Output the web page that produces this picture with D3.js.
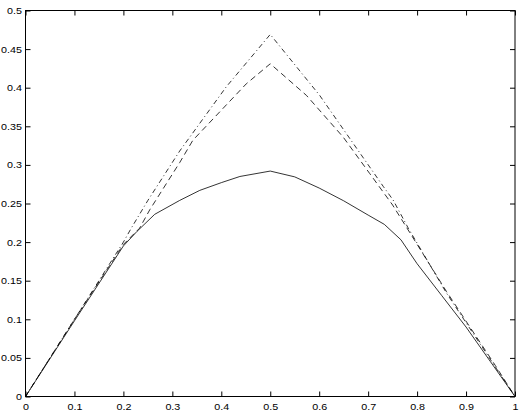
<!DOCTYPE html>
<html>
<head>
<meta charset="utf-8">
<script src="https://cdn.jsdelivr.net/npm/d3@7"></script>
<style>
  body { margin: 0; background: #fff; }
  svg { display: block; }
  .tick text { font-family: "Liberation Sans", Arial, sans-serif; font-size: 9.5px; fill: #000; }
  .tick line { stroke: #000; }
</style>
</head>
<body>
<div id="chart"></div>
<script>
// values
var xSolid = [0, 0.1, 0.2, 0.228, 0.264, 0.315, 0.356, 0.4, 0.438, 0.5, 0.55, 0.6, 0.65, 0.7, 0.733, 0.767, 0.8, 0.85, 0.9, 0.95, 1];
var ySolid = [0, 0.098, 0.195, 0.214, 0.236, 0.254, 0.267, 0.277, 0.285, 0.292, 0.2845, 0.27, 0.2535, 0.235, 0.223, 0.203, 0.172, 0.131, 0.09, 0.045, 0];

var xDashed = [0, 0.1, 0.2, 0.233, 0.254, 0.315, 0.342, 0.451, 0.5, 0.574, 0.649, 0.703, 0.75, 0.86, 0.96, 1];
var yDashed = [0, 0.1, 0.197, 0.218, 0.242, 0.303, 0.332, 0.405, 0.431, 0.39, 0.336, 0.289, 0.248, 0.136, 0.04, 0];

var xDashDot = [0, 0.1, 0.2, 0.216, 0.25, 0.315, 0.41, 0.5, 0.601, 0.731, 0.751, 0.782, 0.86, 0.959, 1];
var yDashDot = [0, 0.1, 0.2, 0.218, 0.254, 0.318, 0.401, 0.469, 0.39, 0.272, 0.2545, 0.218, 0.134, 0.039, 0];

var xTicks = [0, 0.1, 0.2, 0.3, 0.4, 0.5, 0.6, 0.7, 0.8, 0.9, 1];
var yTicks = [0, 0.05, 0.1, 0.15, 0.2, 0.25, 0.3, 0.35, 0.4, 0.45, 0.5];

var width = 523;
var height = 413;
var plot = { left: 25.5, right: 515, top: 10.5, bottom: 396.5 };

var svg = d3.select("#chart")
  .append("svg")
  .attr("width", width)
  .attr("height", height);

var xScale = d3.scaleLinear().domain([0, 1]).range([plot.left, plot.right]);
var yScale = d3.scaleLinear().domain([0, 0.5]).range([plot.bottom, plot.top]);

var fmt = d3.format("~g");

// axes, ticks pointing inward
svg.append("g")
  .classed("xax", true)
  .attr("transform", `translate(0, ${plot.bottom})`)
  .call(d3.axisBottom(xScale).tickValues(xTicks).tickFormat(fmt).tickSizeInner(-5).tickSizeOuter(0).tickPadding(6.5));

svg.append("g")
  .classed("yax", true)
  .attr("transform", `translate(${plot.left}, 0)`)
  .call(d3.axisLeft(yScale).tickValues(yTicks).tickFormat(fmt).tickSizeInner(-5).tickSizeOuter(0).tickPadding(3.5));

svg.append("g")
  .attr("transform", `translate(0, ${plot.top})`)
  .call(d3.axisTop(xScale).tickValues(xTicks).tickFormat("").tickSizeInner(-5).tickSizeOuter(0));

svg.append("g")
  .attr("transform", `translate(${plot.right}, 0)`)
  .call(d3.axisRight(yScale).tickValues(yTicks).tickFormat("").tickSizeInner(-5).tickSizeOuter(0));

svg.selectAll(".domain").remove();

// labels in the original look a bit stretched sideways
svg.selectAll(".xax text, .yax text").each(function() {
  var w = this.getComputedTextLength();
  d3.select(this).attr("textLength", w * 1.13).attr("lengthAdjust", "spacingAndGlyphs");
});

svg.append("rect")
  .attr("x", plot.left)
  .attr("y", plot.top)
  .attr("width", plot.right - plot.left)
  .attr("height", plot.bottom - plot.top)
  .attr("fill", "none")
  .attr("stroke", "#000")
  .attr("stroke-width", 1);

var line = d3.line()
  .x(d => xScale(d[0]))
  .y(d => yScale(d[1]));

var series = [
  { x: xSolid, y: ySolid, dash: null },
  { x: xDashed, y: yDashed, dash: "6,4" },
  { x: xDashDot, y: yDashDot, dash: "5,3,1,3" }
];

series.forEach(function(s) {
  var pts = s.x.map((v, i) => [v, s.y[i]]);
  svg.append("path")
    .datum(pts)
    .attr("d", line)
    .attr("fill", "none")
    .attr("stroke", "#000")
    .attr("stroke-width", 0.8)
    .attr("stroke-dasharray", s.dash);
});
</script>
</body>
</html>
